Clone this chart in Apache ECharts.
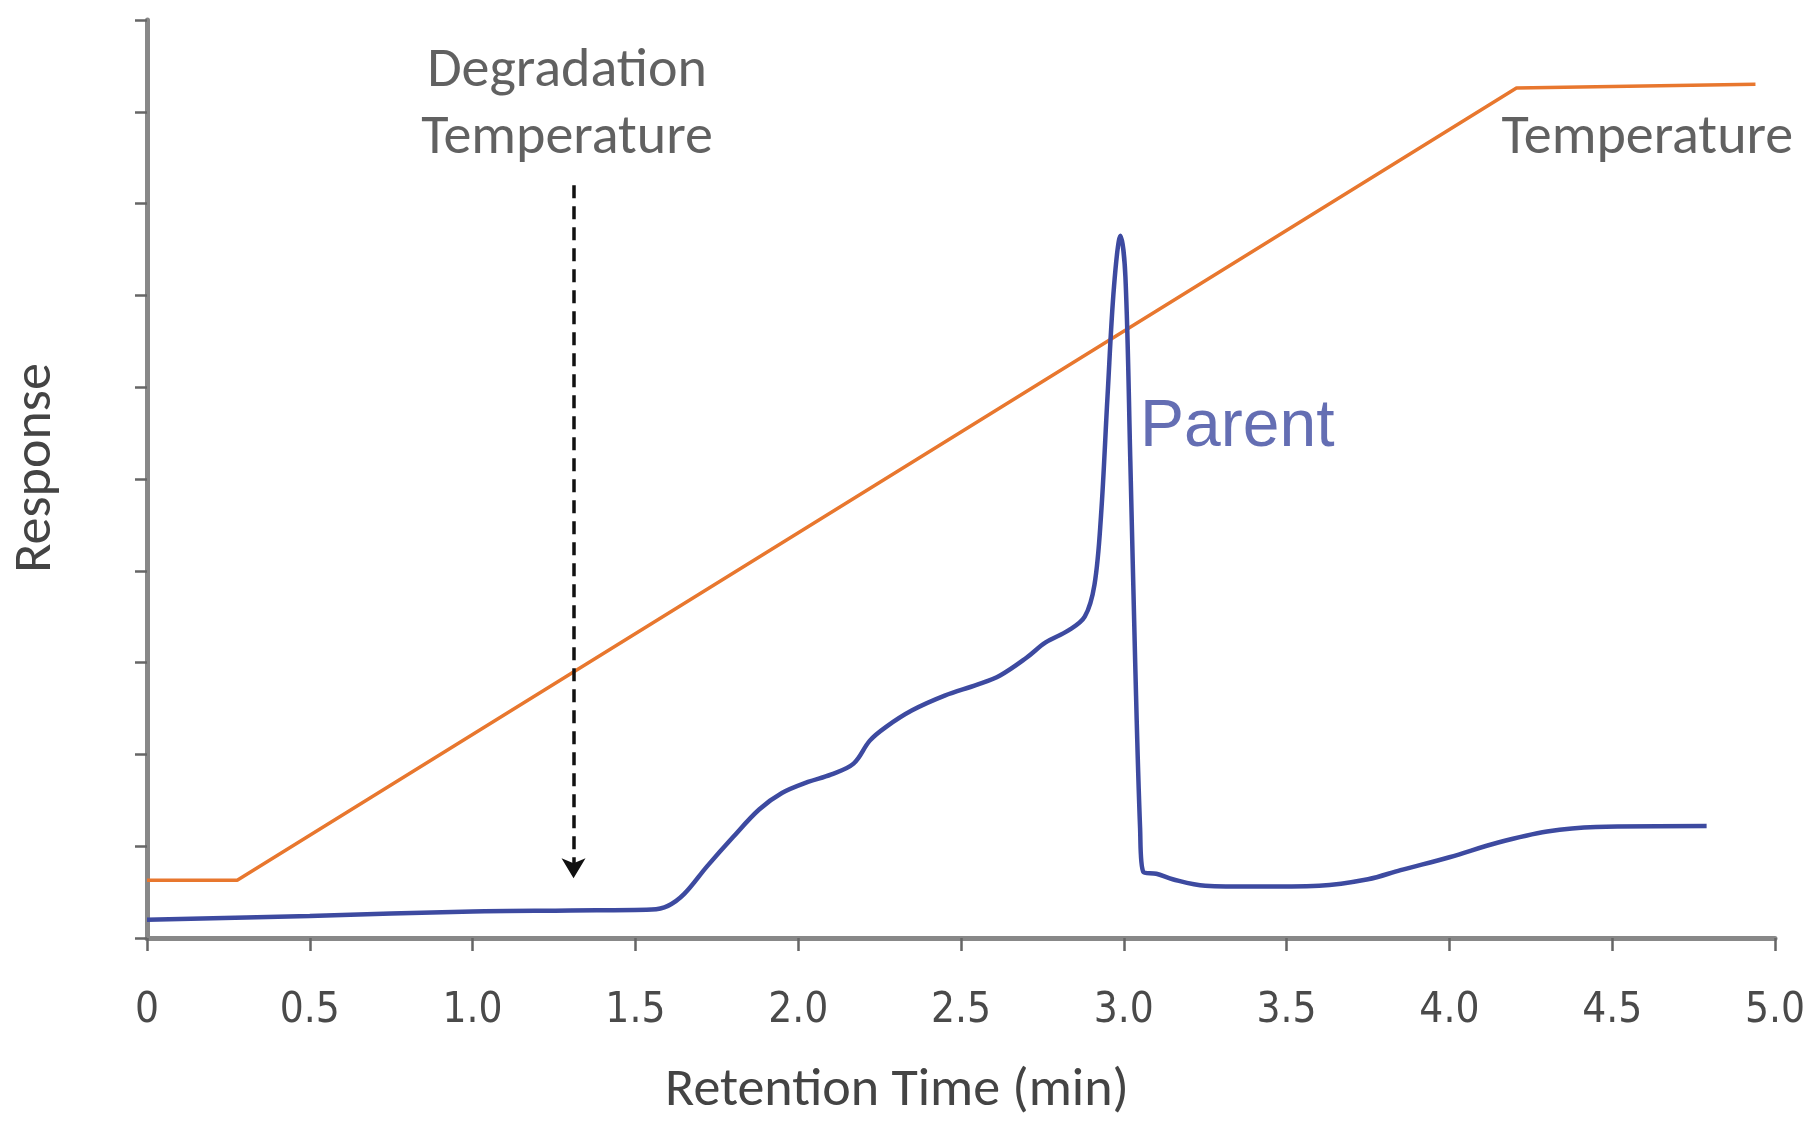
<!DOCTYPE html>
<html>
<head>
<meta charset="utf-8">
<script src="https://cdn.jsdelivr.net/npm/echarts@6/dist/echarts.min.js"></script>
<style>html,body{margin:0;padding:0;background:#fff;}#c{width:1811px;height:1121px;}</style>
</head>
<body>
<div id="c"></div>
<script>
// Data (retention time in min, response in arbitrary units)
const xTicks = [0, 0.5, 1.0, 1.5, 2.0, 2.5, 3.0, 3.5, 4.0, 4.5, 5.0];
const temperature = [[0, 0.63], [0.277, 0.63], [4.206, 9.26], [4.94, 9.30]];
const parent = [
  [0.00, 0.20], [0.50, 0.24], [1.00, 0.29], [1.30, 0.30], [1.55, 0.31], [1.60, 0.35],
  [1.65, 0.48], [1.72, 0.78], [1.80, 1.10], [1.88, 1.40], [1.95, 1.58], [2.03, 1.70],
  [2.10, 1.78], [2.17, 1.90], [2.22, 2.15], [2.27, 2.30], [2.35, 2.48], [2.45, 2.64],
  [2.55, 2.76], [2.62, 2.86], [2.70, 3.05], [2.76, 3.22], [2.83, 3.35], [2.88, 3.50],
  [2.91, 3.85], [2.93, 4.60], [2.95, 5.90], [2.97, 7.10], [2.99, 7.65],
  [3.005, 7.20], [3.02, 5.20], [3.035, 3.00], [3.05, 1.20], [3.06, 0.72], [3.10, 0.70],
  [3.15, 0.64], [3.25, 0.57], [3.40, 0.56], [3.60, 0.57], [3.75, 0.64], [3.85, 0.74],
  [4.00, 0.88], [4.15, 1.04], [4.30, 1.16], [4.45, 1.21], [4.79, 1.22]
];
const arrowStart = [1.31, 8.2];
const arrowEnd = [1.31, 0.65];
const labelDegradation = { text: 'Degradation\nTemperature', pos: [1.29, 9.07] };
const labelTemperature = { text: 'Temperature', pos: [4.16, 8.70] };
const labelParent = { text: 'Parent', pos: [3.05, 5.56] };

const chart = echarts.init(document.getElementById('c'));
const calibri = 'Carlito, Lato, "Open Sans", sans-serif';
chart.setOption({
  animation: false,
  backgroundColor: '#ffffff',
  grid: { left: 147, right: 36, top: 20, bottom: 183 },
  xAxis: {
    type: 'value', min: 0, max: 5, interval: 0.5,
    axisLine: { lineStyle: { color: '#888888', width: 5 } },
    axisTick: { length: 13, lineStyle: { color: '#666', width: 2.5 } },
    splitLine: { show: false },
    axisLabel: {
      margin: 52, fontSize: 42, color: '#4a4a4a',
      fontFamily: '"Liberation Sans Narrow", "DejaVu Sans Condensed", "Roboto Condensed", sans-serif',
      formatter: v => (v === 0 ? '0' : v.toFixed(1))
    }
  },
  yAxis: {
    type: 'value', min: 0, max: 10, interval: 1,
    axisLine: { show: true, lineStyle: { color: '#888888', width: 5 } },
    axisTick: { show: true, length: 12, lineStyle: { color: '#666', width: 2.5 } },
    axisLabel: { show: false },
    splitLine: { show: false }
  },
  graphic: [
    { type: 'text', x: 897, y: 1091,
      style: { text: 'Retention Time (min)', font: '54px ' + calibri, fill: '#444', textAlign: 'center', textVerticalAlign: 'middle' } },
    { type: 'text', x: 36, y: 468, rotation: Math.PI / 2,
      style: { text: 'Response', font: '54px ' + calibri, fill: '#444', textAlign: 'center', textVerticalAlign: 'middle' } }
  ],
  series: [
    {
      type: 'line', data: temperature, symbol: 'none',
      lineStyle: { color: '#e8772e', width: 3.5 },
      markLine: {
        silent: true, symbol: ['none', 'arrow'], symbolSize: [18, 20],
        lineStyle: { color: '#111', type: [13, 8], width: 3.5 },
        label: { show: false },
        data: [[{ coord: arrowStart }, { coord: arrowEnd }]]
      }
    },
    {
      type: 'line', data: parent, symbol: 'none', smooth: 0.35,
      lineStyle: { color: '#3d4aa0', width: 4.5 }
    },
    {
      type: 'scatter', symbolSize: 0, silent: true,
      data: [
        { value: labelDegradation.pos, label: { show: true, formatter: labelDegradation.text, position: 'inside', align: 'center', verticalAlign: 'middle', fontSize: 56, lineHeight: 67, color: '#3a3a3a', fontFamily: calibri } },
        { value: labelTemperature.pos, label: { show: true, formatter: labelTemperature.text, position: 'inside', align: 'left', verticalAlign: 'middle', fontSize: 56, color: '#3a3a3a', fontFamily: calibri } },
        { value: labelParent.pos, label: { show: true, formatter: labelParent.text, position: 'inside', align: 'left', verticalAlign: 'middle', fontSize: 66, color: '#3d4aa0', fontFamily: '"Liberation Sans", Arial, sans-serif' } }
      ]
    }
  ]
});
</script>
</body>
</html>
